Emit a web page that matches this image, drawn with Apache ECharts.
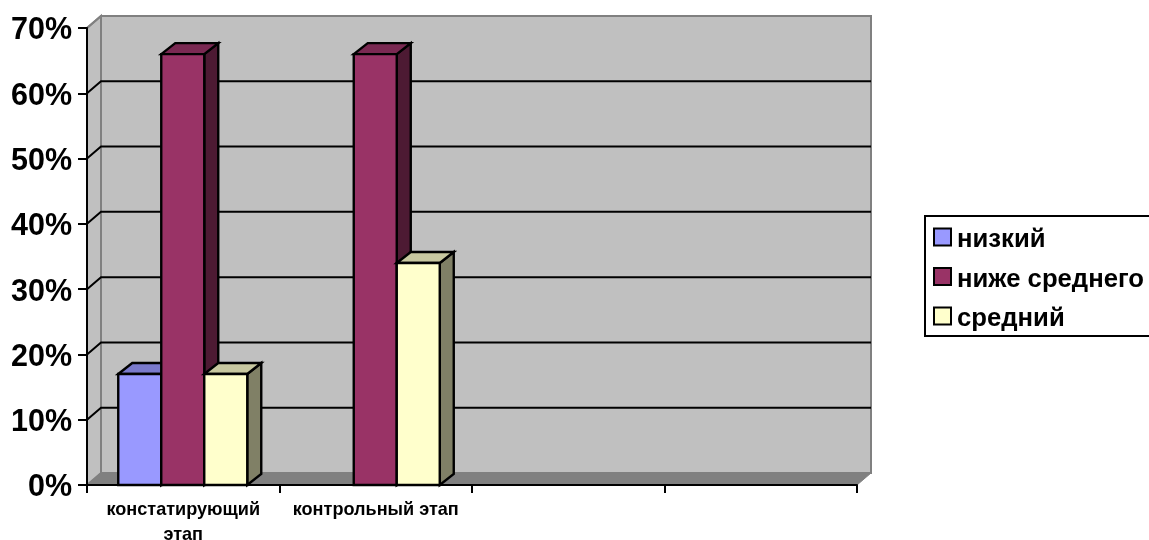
<!DOCTYPE html>
<html>
<head>
<meta charset="utf-8">
<style>html,body{margin:0;padding:0;background:#fff;overflow:hidden}#c{width:1149px;height:540px}</style>
<script src="https://cdn.jsdelivr.net/npm/echarts@6/dist/echarts.min.js"></script>
</head>
<body>
<div id="c"></div>
<script>
const categories = ['констатирующий\nэтап', 'контрольный этап', '', ''];
const seriesNames = ['низкий', 'ниже среднего', 'средний'];
const low = [17, 0];
const belowMedium = [66, 66];
const medium = [17, 34];
const gridTicks = [10, 20, 30, 40, 50, 60, 70];

const faces = [
  { front: '#9999FF', top: '#7A7ACC', side: '#4D4D80' },
  { front: '#993366', top: '#7A2952', side: '#4D1A33' },
  { front: '#FFFFCC', top: '#C8C8A0', side: '#808066' }
];
const DX = 14, DY = -12, BAR_DX = 14, BAR_DY = -11;

function wallItem(params, api) {
  const r = params.coordSys;
  const l = r.x, t = r.y, w = r.width, h = r.height, b = t + h;
  const wall = { stroke: '#808080', lineWidth: 2, lineJoin: 'miter' };
  return { type: 'group', children: [
    { type: 'polygon', shape: { points: [[l + DX, t + DY], [l + w + DX, t + DY], [l + w + DX, b + DY], [l + DX, b + DY]] },
      style: Object.assign({ fill: '#C0C0C0' }, wall) },
    { type: 'polygon', shape: { points: [[l, t], [l + DX, t + DY], [l + DX, b + DY], [l, b]] },
      style: Object.assign({ fill: '#C0C0C0' }, wall) },
    { type: 'polygon', shape: { points: [[l, b], [l + DX, b + DY], [l + w + DX, b + DY], [l + w, b]] },
      style: { fill: '#808080', stroke: '#808080', lineWidth: 1 } }
  ]};
}

function gridItem(params, api) {
  const r = params.coordSys;
  const y = api.coord([0, api.value(1)])[1];
  const topEdge = api.value(1) === 70;
  return { type: 'polyline',
    shape: { points: topEdge ? [[r.x, y], [r.x + DX, y + DY]] : [[r.x, y], [r.x + DX, y + DY], [r.x + r.width + DX, y + DY]] },
    style: { fill: 'none', stroke: topEdge ? '#808080' : '#000', lineWidth: 2 } };
}

function barRenderer(idx) {
  return function (params, api) {
    const v = api.value(1);
    if (!v) return null;
    const base = api.coord([api.value(0), 0]);
    const topY = api.coord([api.value(0), v])[1];
    const bw = api.size([1, 0])[0] * 0.2234;
    const x0 = base[0] + (idx - 1.5) * bw - 0.5, x1 = x0 + bw, y0 = base[1];
    const st = { stroke: '#000', lineWidth: 2.4, lineJoin: 'miter' };
    return { type: 'group', children: [
      { type: 'polygon', shape: { points: [[x1, topY], [x1 + BAR_DX, topY + BAR_DY], [x1 + BAR_DX, y0 + BAR_DY], [x1, y0]] },
        style: Object.assign({ fill: faces[idx].side }, st) },
      { type: 'polygon', shape: { points: [[x0, topY], [x0 + BAR_DX, topY + BAR_DY], [x1 + BAR_DX, topY + BAR_DY], [x1, topY]] },
        style: Object.assign({ fill: faces[idx].top }, st) },
      { type: 'rect', shape: { x: x0, y: topY, width: bw, height: y0 - topY },
        style: Object.assign({ fill: faces[idx].front }, st) }
    ]};
  };
}

function barSeries(idx, values) {
  return {
    type: 'custom', name: seriesNames[idx], z: 3 + idx, silent: true,
    renderItem: barRenderer(idx),
    data: values.map((v, i) => [i, v]),
    itemStyle: { color: faces[idx].front, borderColor: '#000', borderWidth: 2 }
  };
}

const yLabelStyle = { fontFamily: 'Liberation Sans', fontWeight: 'bold', fontSize: 30.5, color: '#000', padding: [6, 0, 0, 0] };
const legendLabelStyle = { fontFamily: 'Liberation Sans', fontWeight: 'bold', fontSize: 25.7, color: '#000', padding: [6, 0, 0, 1] };

const chart = echarts.init(document.getElementById('c'), null, { renderer: 'canvas' });
chart.setOption({
  animation: false,
  backgroundColor: '#fff',
  textStyle: { fontFamily: 'Liberation Sans' },
  grid: { left: 87, top: 28, width: 770, height: 457, containLabel: false, outerBoundsMode: 'none' },
  legend: {
    left: 925, top: 216, orient: 'vertical', selectedMode: false,
    data: seriesNames,
    icon: 'rect', itemWidth: 17, itemHeight: 17, itemGap: 13.5,
    borderColor: '#000', borderWidth: 2, backgroundColor: '#fff',
    padding: [11, 40, 4, 8],
    formatter: '{t|{name}}',
    textStyle: { rich: { t: legendLabelStyle } }
  },
  xAxis: {
    type: 'category', data: categories, z: 8,
    axisLine: { lineStyle: { color: '#000', width: 2 } },
    axisTick: { show: true, length: 8, alignWithLabel: false, lineStyle: { color: '#000', width: 2 } },
    axisLabel: { interval: 0, margin: 12, fontFamily: 'Liberation Sans', fontWeight: 'bold', fontSize: 18.1, color: '#000',
      lineHeight: 25 }
  },
  yAxis: {
    type: 'value', min: 0, max: 70, interval: 10, z: 8,
    axisLine: { show: true, lineStyle: { color: '#000', width: 2 } },
    axisTick: { show: true, length: 9, lineStyle: { color: '#000', width: 2 } },
    splitLine: { show: false },
    axisLabel: { formatter: '{p|{value}%}', margin: 15, rich: { p: yLabelStyle } }
  },
  series: [
    { type: 'custom', name: 'стенки', z: 0, silent: true, renderItem: wallItem, data: [[0, 0]] },
    { type: 'custom', name: 'сетка', z: 1, silent: true, renderItem: gridItem, data: gridTicks.map(v => [0, v]) },
    barSeries(0, low),
    barSeries(1, belowMedium),
    barSeries(2, medium)
  ]
});
</script>
</body>
</html>
